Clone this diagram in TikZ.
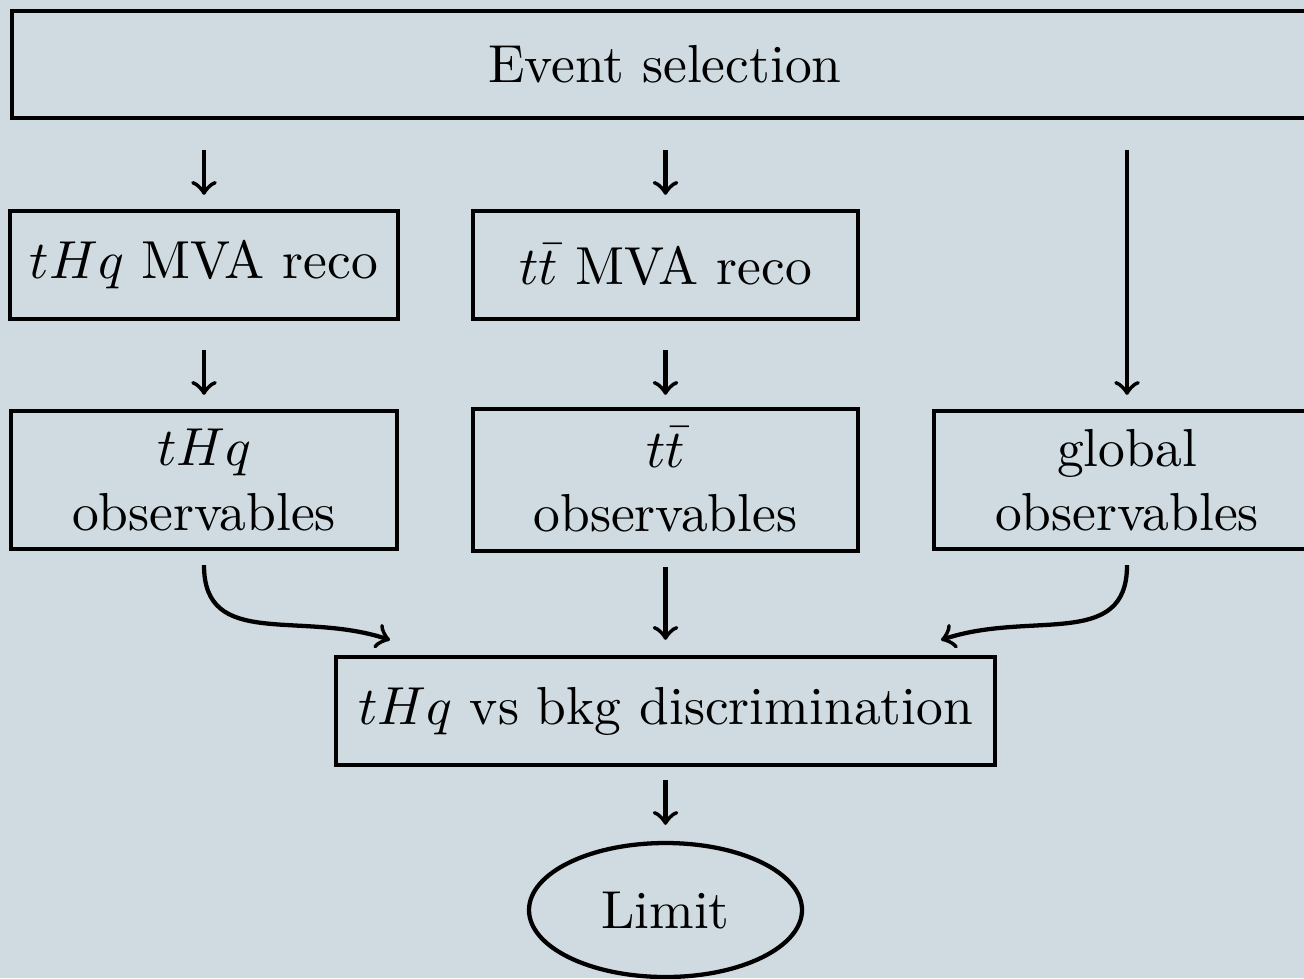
\documentclass[tikz,border=0pt]{standalone}
\usetikzlibrary{shapes.geometric}
\definecolor{slidebg}{RGB}{207,219,224}
% one drawing unit
\def\pxu{0.1869pt}
\begin{document}
\begin{tikzpicture}[x=\pxu, y=-\pxu,
  box/.style={draw, line width=0.8pt, rectangle, inner sep=0pt, align=center},
  flow/.style={->, line width=0.8pt},
  capsule/.style={draw, line width=0.8pt, ellipse, inner sep=0pt}]
  \fill[slidebg] (0,0) rectangle (1304,978);
  \useasboundingbox (0,0) rectangle (1304,978);

  % boxes
  \node[box, minimum width=1306*\pxu, minimum height=107*\pxu] (evt) at (665,64.5) {Event selection};
  \node[box, minimum width=388*\pxu, minimum height=108*\pxu] (mva1) at (204,265) {$tHq$ MVA reco};
  \node[box, minimum width=385*\pxu, minimum height=108*\pxu] (mva2) at (665.5,265) {$t\bar{t}$ MVA reco};
  \node[box, minimum width=386*\pxu, minimum height=138*\pxu] (obs1) at (204,480) {$tHq$\\observables};
  \node[box, minimum width=385*\pxu, minimum height=142*\pxu] (obs2) at (665.5,480) {$t\bar{t}$\\observables};
  \node[box, minimum width=386*\pxu, minimum height=138*\pxu] (obs3) at (1127,480) {global\\observables};
  \node[box, minimum width=659*\pxu, minimum height=108*\pxu] (disc) at (665.5,711) {$tHq$ vs bkg discrimination};
  \node[capsule, minimum width=273*\pxu, minimum height=134*\pxu] (lim) at (665.5,910) {Limit};

  % end points of the curved inputs
  \coordinate (inL) at (390,640);
  \coordinate (inR) at (941,640);

  % connectors
  \draw[flow, shorten <=30*\pxu, shorten >=14*\pxu] (evt.south -| mva1.north) -- (mva1.north);
  \draw[flow, shorten <=30*\pxu, shorten >=14*\pxu] (evt.south -| mva2.north) -- (mva2.north);
  \draw[flow, shorten <=30*\pxu, shorten >=14*\pxu] (evt.south -| obs3.north) -- (obs3.north);
  \draw[flow, shorten <=29*\pxu, shorten >=14*\pxu] (mva1.south) -- (mva1.south |- obs1.north);
  \draw[flow, shorten <=29*\pxu, shorten >=12*\pxu] (mva2.south) -- (obs2.north);
  \draw[flow, shorten <=14*\pxu] (obs1.south) .. controls +(0,99) and +(-90,-30) .. (inL);
  \draw[flow, shorten <=14*\pxu, shorten >=15*\pxu] (obs2.south) -- (obs2.south |- disc.north);
  \draw[flow, shorten <=14*\pxu] (obs3.south) .. controls +(0,99) and +(90,-30) .. (inR);
  \draw[flow, shorten <=13*\pxu, shorten >=16*\pxu] (disc.south) -- (lim.north);
\end{tikzpicture}
\end{document}
